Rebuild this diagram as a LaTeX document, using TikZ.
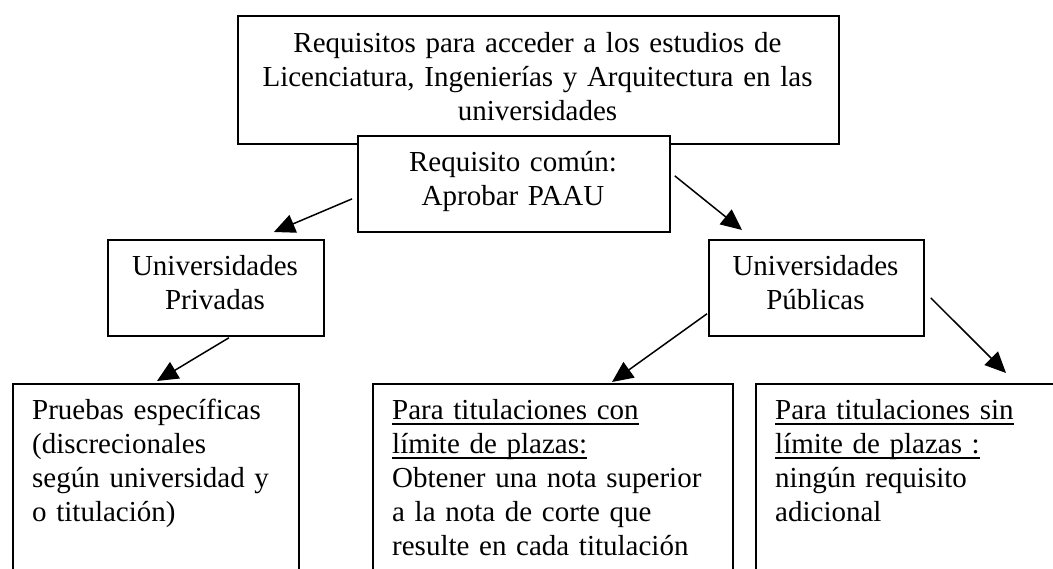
\documentclass[tikz,border=0pt]{standalone}
\usepackage{fontspec}
\setmainfont{Liberation Serif}
\usetikzlibrary{arrows.meta,calc}
\newsavebox\ulbox
\newcommand\myul[1]{\leavevmode\sbox\ulbox{#1}\rlap{\rule[-5pt]{\wd\ulbox}{1.6pt}}\usebox\ulbox}
\begin{document}
\begin{tikzpicture}[x=1pt,y=-1pt,
  box/.style={draw, line width=1.8pt, fill=white, inner sep=0pt, anchor=north west},
  txt/.style={inner sep=0pt, font=\fontsize{29}{34}\selectfont},
  ctxt/.style={txt, align=center, text width=#1, anchor=base},
  ltxt/.style={txt, align=left, text width=#1, anchor=base west},
  arr/.style={line width=1.5pt, -{Triangle[length=21pt,width=19pt]}}]
\useasboundingbox (0,0) rectangle (1053,569);
\clip (0,0) rectangle (1053,569);
\node[box, minimum width=601pt, minimum height=128pt] (top) at (237,15) {};
\node[ctxt=580pt] (toptext) at (537.5,53) {Requisitos para acceder a los estudios de\\Licenciatura, Ingenierías y Arquitectura en las\\universidades};
\node[box, minimum width=312pt, minimum height=96pt] (mid) at (357,135) {};
\node[ctxt=300pt] (midtext) at (513,172) {Requisito común:\\Aprobar PAAU};
\node[box, minimum width=216pt, minimum height=96pt] (priv) at (107,239) {};
\node[ctxt=210pt] (privtext) at (215,276) {Universidades\\Privadas};
\node[box, minimum width=215pt, minimum height=96pt] (pub) at (708,239) {};
\node[ctxt=210pt] (pubtext) at (815.5,276) {Universidades\\Públicas};
\node[box, minimum width=286pt, minimum height=250pt] (bl) at (12,383) {};
\node[ltxt=260pt] (bltext) at (32,420) {Pruebas específicas\\(discrecionales\\según universidad y\\o titulación)};
\node[box, minimum width=360pt, minimum height=250pt] (bm) at (372,383) {};
\node[ltxt=340pt] (bmtext) at (392,420) {\myul{Para titulaciones con}\\\myul{límite de plazas:}\\Obtener una nota superior\\a la nota de corte que\\resulte en cada titulación};
\node[box, minimum width=330pt, minimum height=250pt] (br) at (755,383) {};
\node[ltxt=280pt] (brtext) at (775,420) {\myul{Para titulaciones sin}\\\myul{límite de plazas :}\\ningún requisito\\adicional};
\draw[arr] ($(mid.west)+(-5,15)$) -- ($(priv.north)+(58,-7)$);
\draw[arr] ($(mid.east)+(4,-8)$) -- ($(pub.north west)+(34,-9)$);
\draw[arr] ($(priv.south)+(13,1)$) -- ($(bl.north west)+(145,-2)$);
\draw[arr] ($(pub.south west)+(-1,-23)$) -- ($(bm.north west)+(240,-1)$);
\draw[arr] ($(pub.east)+(6,10)$) -- ($(br.north west)+(251,-10)$);
\end{tikzpicture}
\end{document}
